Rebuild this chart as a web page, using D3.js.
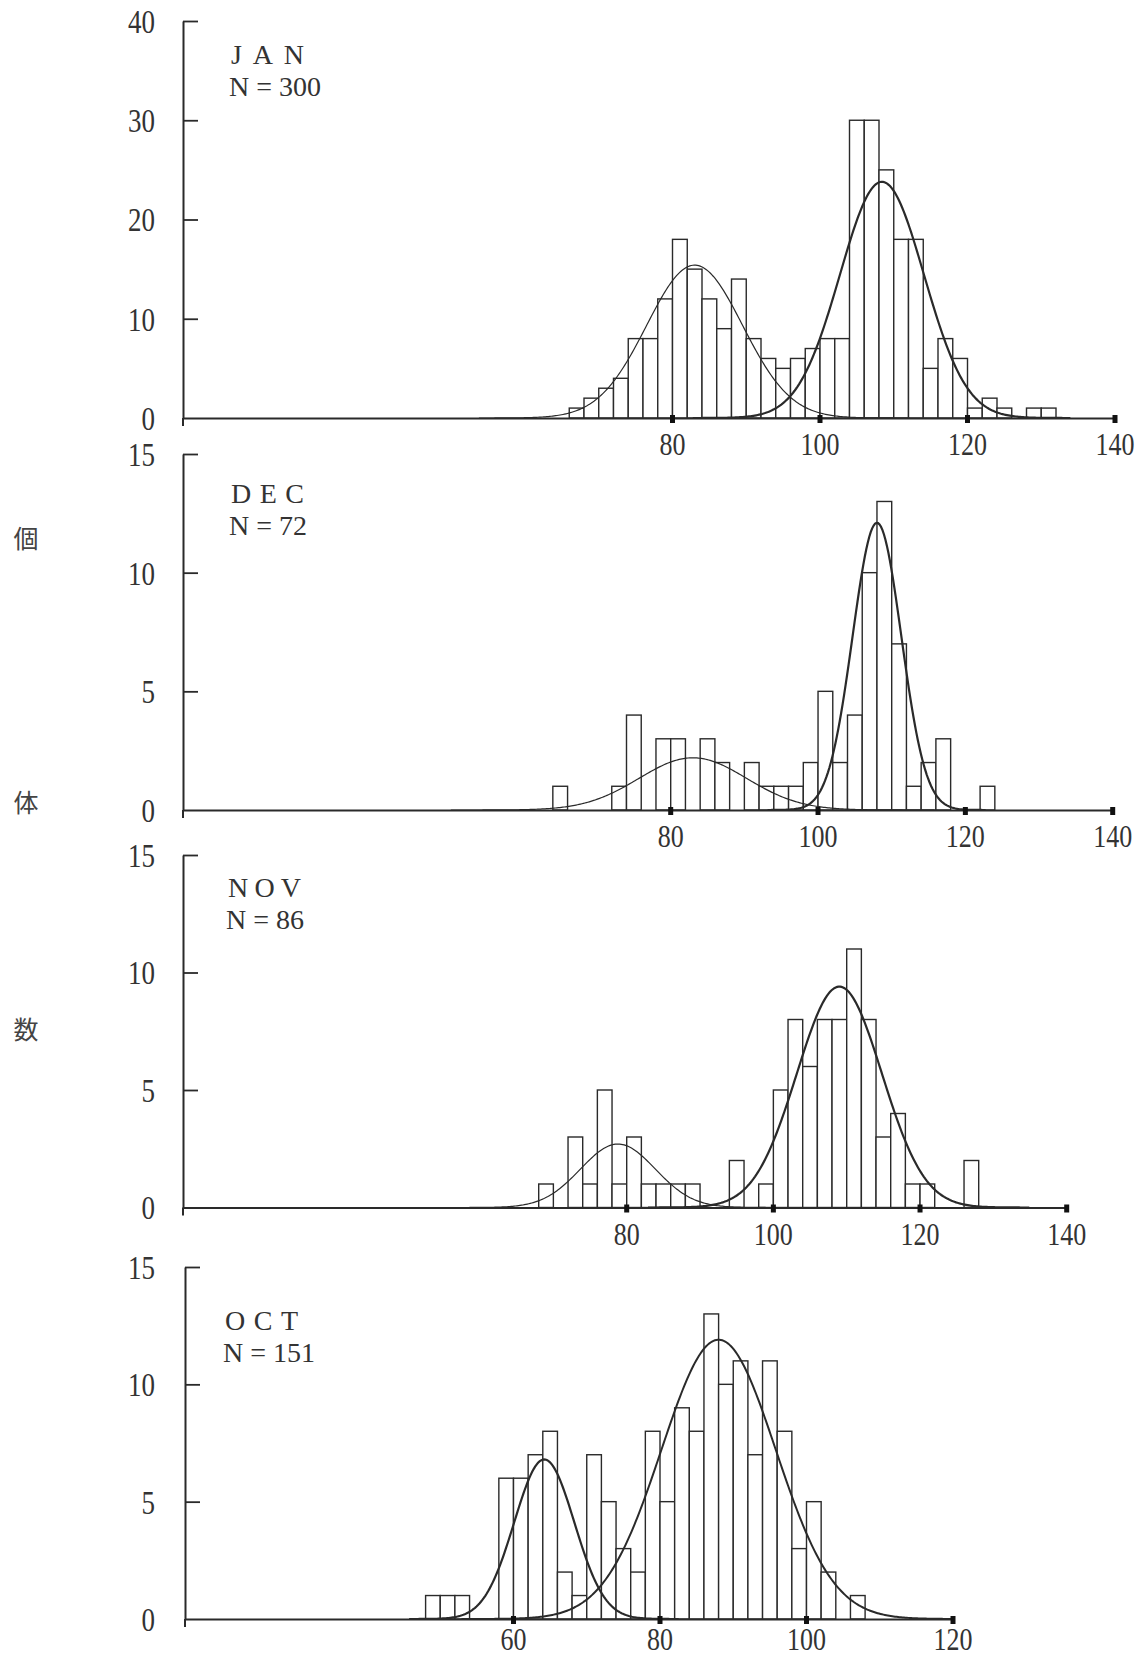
<!DOCTYPE html>
<html>
<head>
<meta charset="utf-8">
<script src="https://cdn.jsdelivr.net/npm/d3@7"></script>
<style>
  body { margin: 0; background: #fff; }
  svg { display: block; }
</style>
</head>
<body>
<svg width="1144" height="1659"></svg>
<script>
// histogram counts, 2-unit bins starting at the given value
const binWidth = 2;

const janStart = 66;
const janCounts = [1,2,3,4,8,8,12,18,15,12,9,14,8,6,5,6,7,8,8,30,30,25,18,18,5,8,6,1,2,1,0,1,1];

const decStart = 64;
const decCounts = [1,0,0,0,1,4,0,3,3,0,3,2,0,2,1,1,1,2,5,2,4,10,13,7,1,2,3,0,0,1];

const novStart = 68;
const novCounts = [1,0,3,1,5,1,3,1,1,1,1,0,0,2,0,1,5,8,6,8,8,11,8,3,4,1,1,0,0,2];

const octStart = 48;
const octCounts = [1,1,1,0,0,6,6,7,8,2,1,7,5,3,2,8,5,9,8,13,10,11,7,11,8,3,5,2,0,1];

// fitted normal curves: mean, sd, peak height
const janCurves = [{mean: 83, sd: 6.5, peak: 15.4, w: 1.2}, {mean: 108.4, sd: 5.7, peak: 23.8, w: 2.2}];
const decCurves = [{mean: 83, sd: 7.3, peak: 2.2, w: 1.2}, {mean: 108, sd: 3.3, peak: 12.1, w: 2.2}];
const novCurves = [{mean: 78.8, sd: 5.1, peak: 2.7, w: 1.2}, {mean: 109, sd: 5.8, peak: 9.4, w: 2.2}];
const octCurves = [{mean: 64.2, sd: 4.1, peak: 6.8, w: 2.2}, {mean: 88, sd: 7.8, peak: 11.9, w: 2.0}];

const months = ["JAN", "DEC", "NOV", "OCT"];
const sampleSizes = [300, 72, 86, 151];

const yTicks = [[0,10,20,30,40], [0,5,10,15], [0,5,10,15], [0,5,10,15]];
const xTicks = [[80,100,120,140], [80,100,120,140], [80,100,120,140], [60,80,100,120]];

const yTitle = ["個", "体", "数"];

// where each panel sits on the page
const layout = [
  {axisX: 183, y0: 418,    yTop: 21,   xr: [672.5, 1115],   labelX: 231, labelY: 64,   xlabDy: 37},
  {axisX: 183, y0: 810,    yTop: 454,  xr: [670.7, 1112.7], labelX: 231, labelY: 503,  xlabDy: 37},
  {axisX: 183, y0: 1207.5, yTop: 855,  xr: [626.7, 1066.7], labelX: 228, labelY: 897,  xlabDy: 37},
  {axisX: 185, y0: 1619,   yTop: 1267, xr: [513.5, 953],    labelX: 225, labelY: 1330, xlabDy: 31}
];
const yTitlePos = [539, 803, 1030];

const panelData = [
  {start: janStart, counts: janCounts, curves: janCurves},
  {start: decStart, counts: decCounts, curves: decCurves},
  {start: novStart, counts: novCounts, curves: novCurves},
  {start: octStart, counts: octCounts, curves: octCurves}
];

const ink = "#2a2a2a";
const svg = d3.select("svg");
svg.append("rect").attr("width", 1144).attr("height", 1659).attr("fill", "#fff");

panelData.forEach(function(p, k) {
  const L = layout[k];
  const xt = xTicks[k], yt = yTicks[k];

  const x = d3.scaleLinear().domain([xt[0], xt[xt.length-1]]).range(L.xr);
  const xmin = x.invert(L.axisX);
  x.domain([xmin, xt[xt.length-1]]).range([L.axisX, L.xr[1]]);

  const y = d3.scaleLinear().domain([0, yt[yt.length-1]]).range([L.y0, L.yTop]);

  const g = svg.append("g").attr("class", "panel");

  // bars
  const bins = p.counts.map((c, i) => ({x0: p.start + i*binWidth, x1: p.start + (i+1)*binWidth, n: c}))
                       .filter(d => d.n > 0);
  g.selectAll(".bar")
    .data(bins)
    .join("rect")
    .attr("class", "bar")
    .attr("x", d => x(d.x0))
    .attr("width", d => x(d.x1) - x(d.x0))
    .attr("y", d => y(d.n))
    .attr("height", d => y(0) - y(d.n))
    .style("fill", "#fff")
    .style("stroke", ink)
    .style("stroke-width", 1.4);

  // normal curves
  const line = d3.line().x(d => x(d[0])).y(d => y(d[1]));
  p.curves.forEach(function(c) {
    const lo = Math.max(xmin + 1, c.mean - 4.5*c.sd), hi = Math.min(xt[xt.length-1], c.mean + 4.5*c.sd);
    const pts = d3.range(lo, hi, 0.2).map(v => [v, c.peak * Math.exp(-((v - c.mean)**2) / (2*c.sd*c.sd))]);
    g.append("path")
      .attr("d", line(pts))
      .style("fill", "none")
      .style("stroke", ink)
      .style("stroke-width", c.w);
  });

  // y axis
  const yAxis = d3.axisRight(y)
    .tickValues(yt.slice(1))
    .tickSizeInner(15)
    .tickSizeOuter(0)
    .tickFormat("");
  const ya = g.append("g").attr("transform", `translate(${L.axisX},0)`).call(yAxis);
  ya.select(".domain").style("stroke", ink).style("stroke-width", 2);
  ya.selectAll(".tick line").style("stroke", ink).style("stroke-width", 1.8);
  g.append("line")
    .attr("x1", L.axisX).attr("x2", L.axisX)
    .attr("y1", y(0)).attr("y2", y(0) + 8)
    .style("stroke", ink).style("stroke-width", 2);

  // x axis
  const xAxis = d3.axisBottom(x).tickValues([]).tickSizeOuter(0);
  const xa = g.append("g").attr("transform", `translate(0,${L.y0})`).call(xAxis);
  xa.select(".domain").style("stroke", ink).style("stroke-width", 1.8);
  g.selectAll(".xmark")
    .data(xt)
    .join("rect")
    .attr("class", "xmark")
    .attr("x", d => x(d) - 2.5)
    .attr("y", L.y0 - 3)
    .attr("width", 5)
    .attr("height", 8)
    .style("fill", "#111");

  // tick labels (the print is tall and narrow, so stretch them a bit)
  g.selectAll(".xlab")
    .data(xt)
    .join("text")
    .attr("class", "xlab")
    .attr("transform", d => `translate(${x(d)},${L.y0 + L.xlabDy}) scale(1,1.22)`)
    .attr("text-anchor", "middle")
    .style("font-family", "'Liberation Serif', serif")
    .style("font-size", "26px")
    .style("fill", "#333")
    .text(d => d);

  g.selectAll(".ylab")
    .data(yt)
    .join("text")
    .attr("class", "ylab")
    .attr("transform", d => `translate(155,${y(d)}) scale(1,1.22)`)
    .attr("dy", "0.36em")
    .attr("text-anchor", "end")
    .style("font-family", "'Liberation Serif', serif")
    .style("font-size", "27px")
    .style("fill", "#333")
    .text(d => d);

  // month and sample size
  g.append("text")
    .attr("x", L.labelX).attr("y", L.labelY)
    .attr("textLength", 73).attr("lengthAdjust", "spacing")
    .style("font-family", "'Liberation Serif', serif")
    .style("font-size", "28px")
    .style("fill", "#333")
    .text(months[k]);
  g.append("text")
    .attr("x", L.labelX - 2).attr("y", L.labelY + 32)
    .style("font-family", "'Liberation Serif', serif")
    .style("font-size", "28px")
    .style("fill", "#333")
    .text("N = " + sampleSizes[k]);
});

// vertical title 個体数
svg.selectAll(".ytitle")
  .data(yTitle)
  .join("text")
  .attr("class", "ytitle")
  .attr("x", 26)
  .attr("y", (d, i) => yTitlePos[i])
  .attr("dy", "0.35em")
  .attr("text-anchor", "middle")
  .style("font-family", "'Noto Sans CJK JP', sans-serif")
  .style("font-size", "25px")
  .style("fill", "#444")
  .text(d => d);
</script>
</body>
</html>
